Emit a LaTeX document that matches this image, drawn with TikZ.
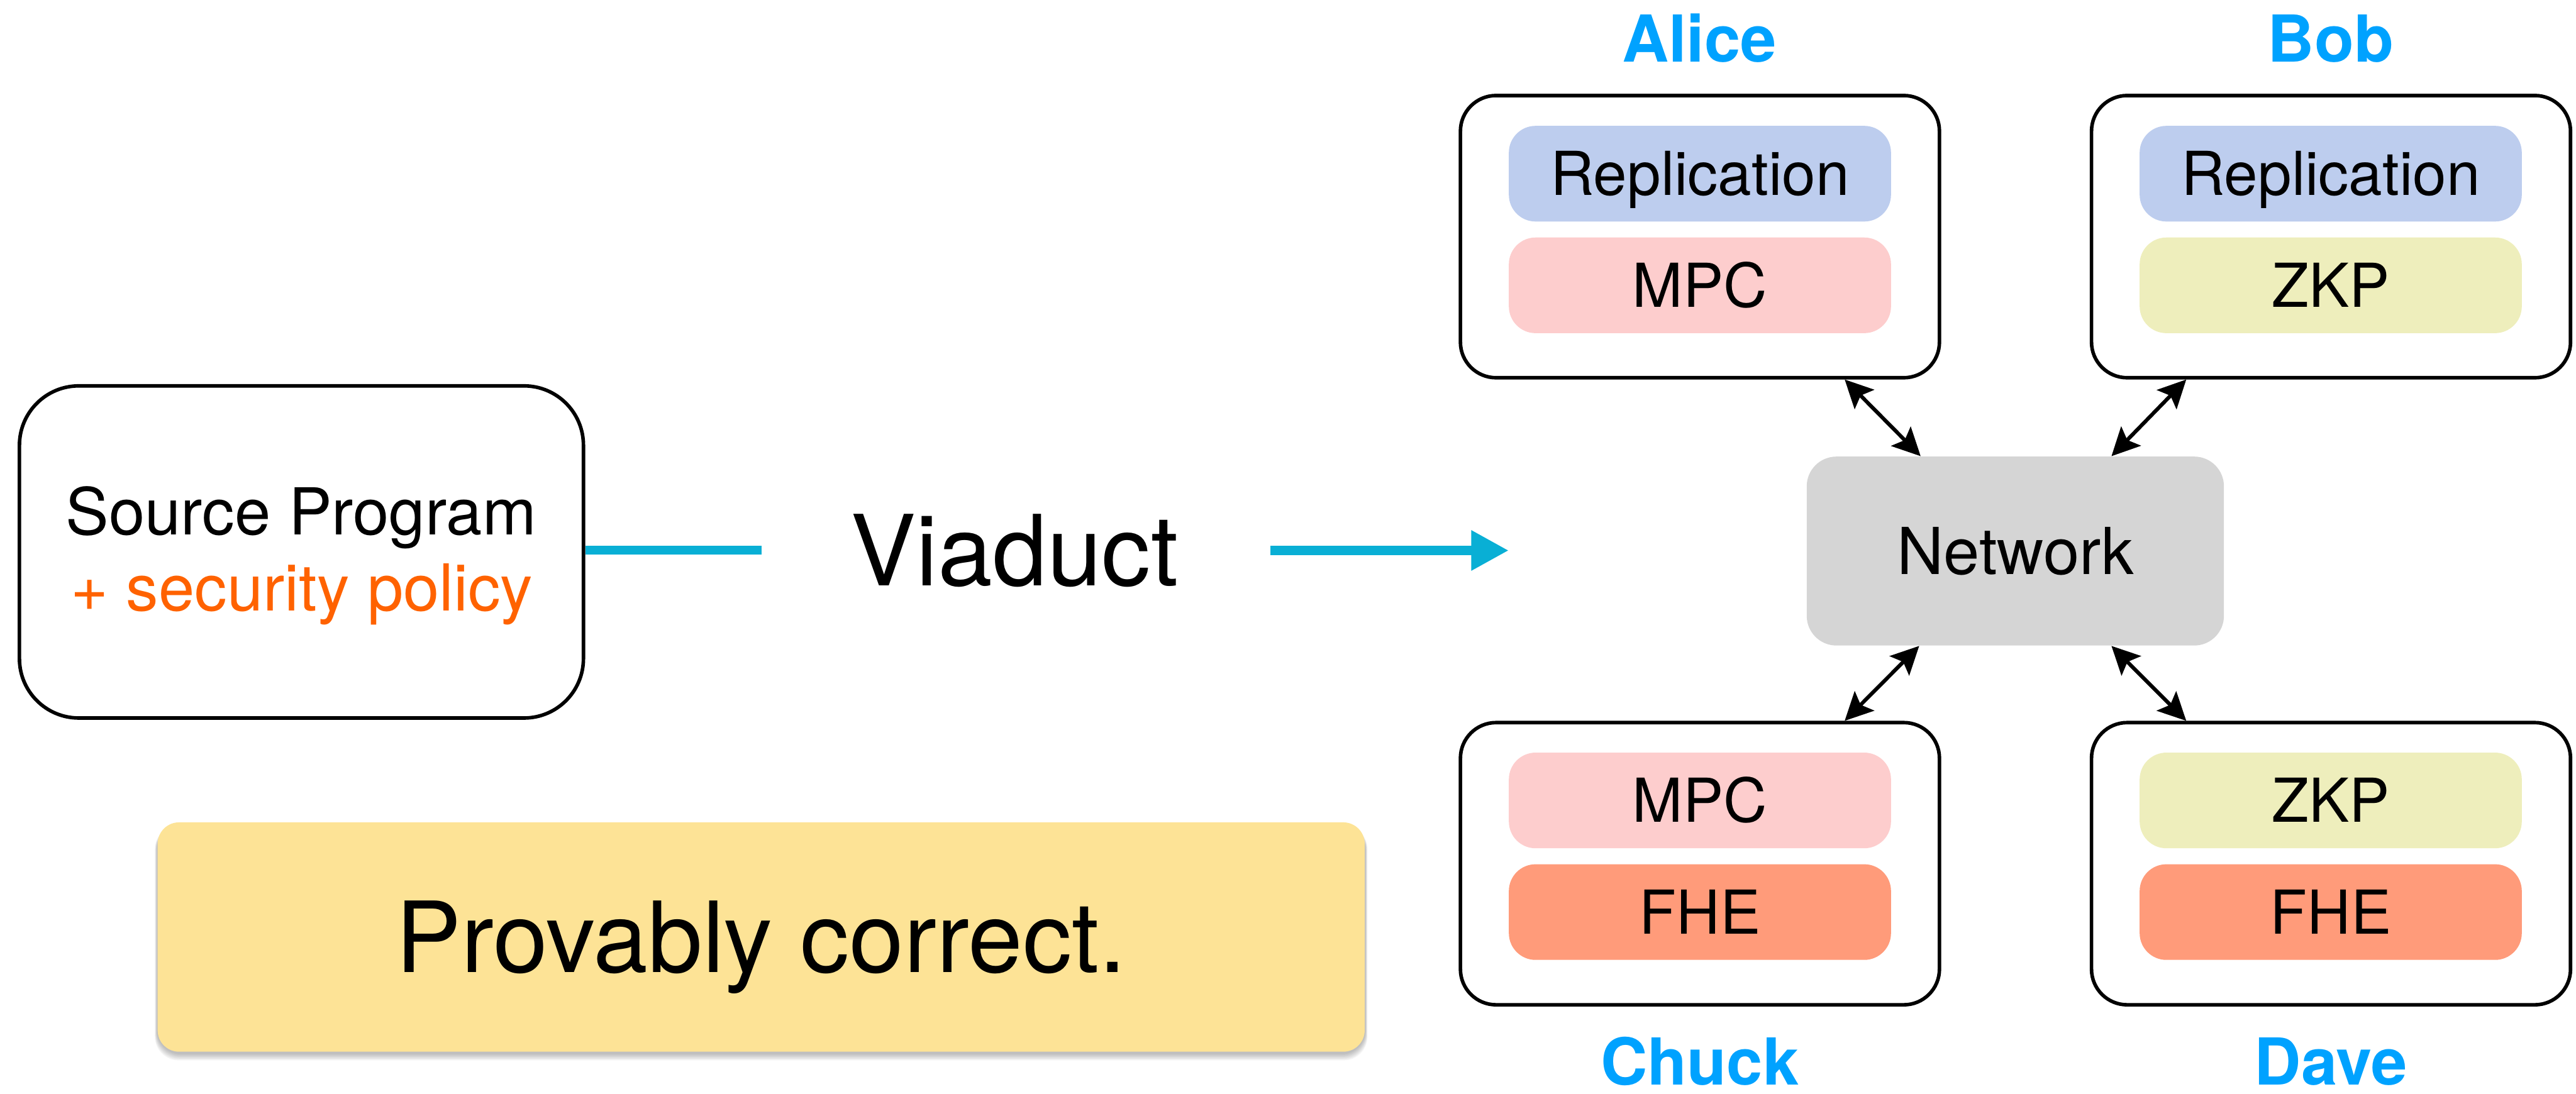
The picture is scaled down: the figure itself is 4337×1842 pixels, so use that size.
\documentclass[tikz,border=0pt]{standalone}
\usepackage{fontspec}
\setmainfont{TeX Gyre Heros}
\usetikzlibrary{arrows.meta,calc,backgrounds}

\definecolor{viacyan}{RGB}{9,175,213}
\definecolor{partyblue}{RGB}{0,162,255}
\definecolor{policyorange}{RGB}{255,98,0}
\definecolor{replfill}{RGB}{189,205,238}
\definecolor{mpcfill}{RGB}{253,205,205}
\definecolor{zkpfill}{RGB}{238,238,188}
\definecolor{fhefill}{RGB}{255,155,122}
\definecolor{netfill}{RGB}{213,213,213}
\definecolor{provfill}{RGB}{253,227,150}

\tikzset{
  x=0.01cm, y=-0.01cm,
  outline/.style={draw, line width=1.7pt, inner sep=0pt},
  srcbox/.style={outline, rounded corners=1cm, minimum width=9.49cm, minimum height=5.59cm},
  party/.style={outline, rounded corners=0.6cm, minimum width=8.06cm, minimum height=4.75cm},
  pill/.style={rounded corners=0.45cm, minimum width=6.43cm, minimum height=1.61cm,
    inner sep=0pt, text height=20.8pt, text depth=0pt, font=\fontsize{29}{34}\selectfont},
  repl/.style={pill, fill=replfill},
  mpc/.style={pill, fill=mpcfill},
  zkp/.style={pill, fill=zkpfill},
  fhe/.style={pill, fill=fhefill},
  netbox/.style={fill=netfill, rounded corners=0.5cm, minimum width=7.02cm, minimum height=3.18cm,
    inner sep=0pt, text height=22.3pt, text depth=0pt, font=\fontsize{31}{36}\selectfont},
  provbox/.style={fill=provfill, rounded corners=0.36cm, minimum width=20.31cm, minimum height=3.86cm,
    inner sep=0pt, text height=33.6pt, text depth=0pt, font=\fontsize{47}{56}\selectfont},
  srctext/.style={anchor=base, font=\fontsize{31}{36}\selectfont},
  partyname/.style={anchor=base, text=partyblue, font=\bfseries\fontsize{31}{36}\selectfont},
  flow/.style={draw=viacyan, line width=0.15cm},
  linktip/.tip={Stealth[length=0.47cm,width=0.46cm,inset=0.09cm]},
  link/.style={line width=1.8pt, linktip-linktip},
}

\begin{document}
\begin{tikzpicture}
\useasboundingbox (0,0) rectangle (4337,1842);

% input: source program with its security policy
\node[srcbox] (src) at (507.5,929.5) {};
\node[srctext] (srcprog) at (507,901) {Source Program};
\node[srctext, text=policyorange] (policy) at (508,1029) {+ security policy};

% the compiler
\node[anchor=base, font=\fontsize{47}{56}\selectfont] (viaduct) at (1708,986) {Viaduct};
\coordinate (lineend) at (1282,926.5);
\draw[flow] (src.east |- lineend) -- (lineend);
\coordinate (arrstart) at (2139,927);
\coordinate (arrtip) at (2540,927);
\draw[flow, -{Triangle[length=0.63cm,width=0.64cm]}] (arrstart) -- (arrtip);

% the network in the middle
\node[netbox] (net) at (3393,928) {Network};

% hosts with their protocols
\node[party] (alice) at (2862,398.5) {};
\node[repl] (alicerepl) at (2862,292.5) {Replication};
\node[mpc]  (alicempc)  at (2862,480.5) {MPC};
\node[partyname] (alicename) at (2861,104) {Alice};

\node[party] (bob) at (3924.5,398.5) {};
\node[repl] (bobrepl) at (3924,292.5) {Replication};
\node[zkp]  (bobzkp)  at (3924,480.5) {ZKP};
\node[partyname] (bobname) at (3924,104) {Bob};

\node[party] (chuck) at (2862,1454.5) {};
\node[mpc] (chuckmpc) at (2862,1348) {MPC};
\node[fhe] (chuckfhe) at (2862,1536) {FHE};
\node[partyname] (chuckname) at (2862,1827) {Chuck};

\node[party] (dave) at (3924.5,1454.5) {};
\node[zkp] (davezkp) at (3924,1348) {ZKP};
\node[fhe] (davefhe) at (3924,1536) {FHE};
\node[partyname] (davename) at (3924,1827) {Dave};

% links between hosts and the network
\draw[link] ($(alice.south west)!0.8!(alice.south east)$) -- ($(net.north west)!0.2735!(net.north east)$);
\draw[link] ($(bob.south west)!0.2!(bob.south east)$) -- ($(net.north west)!0.73!(net.north east)$);
\draw[link] ($(chuck.north west)!0.8!(chuck.north east)$) -- ($(net.south west)!0.27!(net.south east)$);
\draw[link] ($(dave.north west)!0.2!(dave.north east)$) -- ($(net.south west)!0.73!(net.south east)$);

% guarantee
\node[provbox] (prov) at (1281.5,1578) {Provably correct.};
\begin{pgfonlayer}{background}
  \foreach \k in {1,...,8}{
    \fill[black, opacity=0.035, rounded corners=0.4cm]
      ($(prov.north west)+(-\k/2,6)$) rectangle ($(prov.south east)+(\k/2,2+1.5*\k)$);
  }
\end{pgfonlayer}
\end{tikzpicture}
\end{document}
